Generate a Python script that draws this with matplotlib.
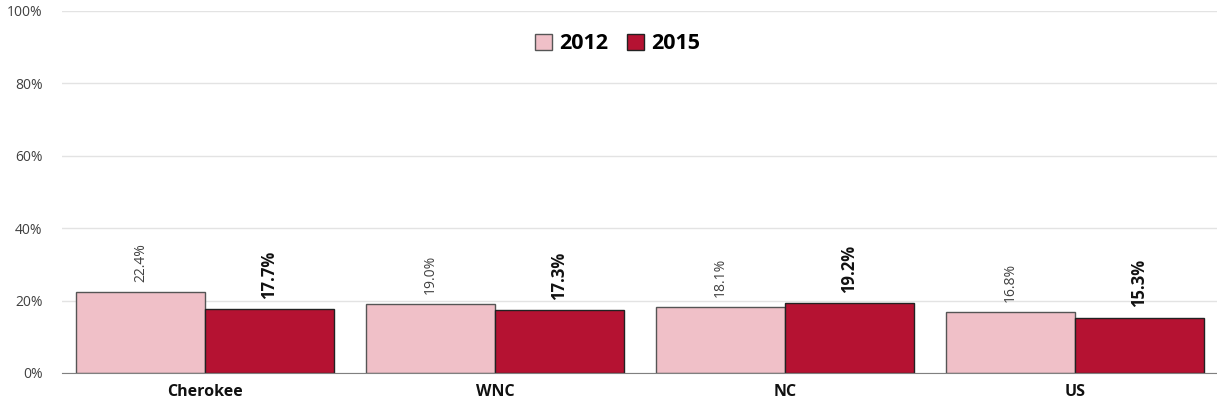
import matplotlib
matplotlib.use("Agg")
import matplotlib.pyplot as plt
import numpy as np

categories = ["Cherokee", "WNC", "NC", "US"]
series_names = ["2012", "2015"]
values_2012 = [22.4, 19.0, 18.1, 16.8]
values_2015 = [17.7, 17.3, 19.2, 15.3]
yticks = [0, 20, 40, 60, 80, 100]

plt.rcParams['font.family'] = ['Open Sans', 'DejaVu Sans']

fig = plt.figure(figsize=(12.17, 4.09), dpi=100)
ax = fig.add_axes([62/1217, 36/409, 1 - 62/1217, (373-11)/409])

x = np.arange(len(categories))
w = 0.445
c12 = "#F0C0C8"
c15 = "#B51232"
b1 = ax.bar(x - w/2, values_2012, w, color=c12, edgecolor="#555555", linewidth=1.0, label=series_names[0], zorder=3)
b2 = ax.bar(x + w/2, values_2015, w, color=c15, edgecolor="#222222", linewidth=1.0, label=series_names[1], zorder=3)

for xi, v in zip(x, values_2012):
    ax.text(xi - w/2, v + 2.8, f"{v:.1f}%", rotation=90, ha="center", va="bottom",
            fontsize=10, color="#404040")
for xi, v in zip(x, values_2015):
    ax.text(xi + w/2, v + 2.8, f"{v:.1f}%", rotation=90, ha="center", va="bottom",
            fontsize=12, color="#111111", fontweight="bold")

ax.set_xlim(-0.493, 3.49)
ax.set_ylim(0, 100)
ax.set_yticks(yticks)
ax.set_yticklabels([f"{t}%" for t in yticks], fontsize=10, color="#404040")
ax.set_xticks(x)
ax.set_xticklabels(categories, fontsize=11.5, fontweight="bold", color="#111111")
ax.tick_params(axis="both", length=0)
ax.tick_params(axis="y", pad=14)
ax.tick_params(axis="x", pad=8)
ax.grid(axis="y", color="#E3E3E3", linewidth=1, zorder=0)
for s in ["top", "right", "left"]:
    ax.spines[s].set_visible(False)
ax.spines["bottom"].set_color("#808080")
ax.spines["bottom"].set_zorder(4)

leg = ax.legend(loc="center", bbox_to_anchor=(0.481, 0.909), ncol=2, frameon=False,
                prop={"size": 15.5, "weight": "bold"}, handlelength=0.8, handleheight=0.8,
                handletextpad=0.3, columnspacing=0.9)

fig.savefig("out.png", dpi=100)
